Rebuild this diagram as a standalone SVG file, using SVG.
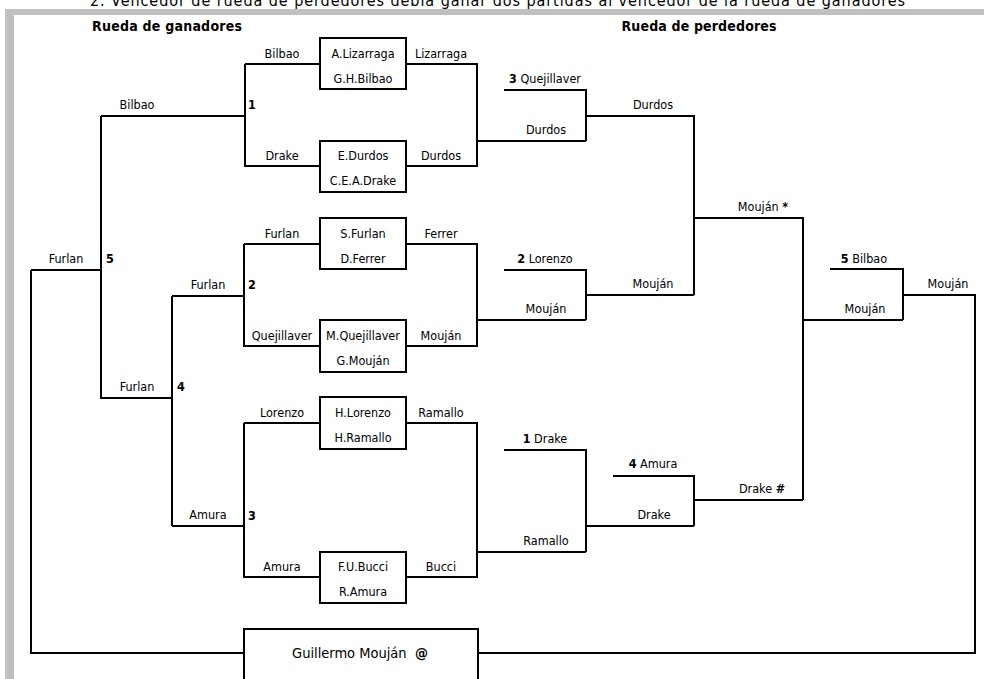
<svg xmlns="http://www.w3.org/2000/svg" width="984" height="679" viewBox="0 0 984 679">
<style>
text{font-family:"DejaVu Sans Condensed","DejaVu Sans",Verdana,sans-serif;font-stretch:condensed;font-size:12.5px;fill:#000}
.c{text-anchor:middle}
.b{font-weight:bold}
.t{font-weight:bold;font-size:14px}
.w{fill:none;stroke:#000;stroke-width:2}
.box{fill:#fff;stroke:#000;stroke-width:2}
.frame{fill:#c0c0c0}
</style>
<rect width="984" height="679" fill="#fff"/>
<g id="frame">
<rect class="frame" x="5" y="9" width="979" height="6"/>
<rect class="frame" x="5" y="9" width="9" height="670"/>
<text x="90" y="6" style="font-size:16px" textLength="815">2. Vencedor de rueda de perdedores debía ganar dos partidas al vencedor de la rueda de ganadores</text>
</g>
<g id="titles">
<text class="t c" x="167" y="31" textLength="150">Rueda de ganadores</text>
<text class="t c" x="699" y="31" textLength="155">Rueda de perdedores</text>
</g>
<g id="connectors" class="w">
<path d="M245,64H320M245,64V166H320M406,64H477V166H406M101,116H245M477,141H586M504,90H586V141M586,116H694V295"/>
<path d="M244,244H320M244,244V346H320M406,244H477V346H406M172,296H244M477,320H586M504,270H586V320M586,295H694"/>
<path d="M244,423H320M244,423V577H320M406,423H477V577H406M172,526H244M477,552H586M504,450H586V552M586,526H694M613,476H694V526M694,500H803"/>
<path d="M101,116V398H172M172,296V526M31,270H101M31,270V653H244M478,653H975V295H903M694,218H803V500M803,320H903M830,269H903V320"/>
</g>
<g id="match1">
<g id="box-lizarraga-bilbao"><rect class="box" x="320" y="38" width="86" height="51"/><text class="c" x="363" y="58">A.Lizarraga</text><text class="c" x="363" y="83">G.H.Bilbao</text></g>
<g id="box-durdos-drake"><rect class="box" x="320" y="141" width="86" height="51"/><text class="c" x="363" y="160">E.Durdos</text><text class="c" x="363" y="185">C.E.A.Drake</text></g>
<text class="c" x="282" y="58">Bilbao</text>
<text class="c" x="282" y="160">Drake</text>
<text class="c" x="441" y="58">Lizarraga</text>
<text class="c" x="441" y="160">Durdos</text>
<text class="b" x="248" y="109">1</text>
</g>
<g id="match2">
<g id="box-furlan-ferrer"><rect class="box" x="320" y="218" width="86" height="51"/><text class="c" x="363" y="238">S.Furlan</text><text class="c" x="363" y="263">D.Ferrer</text></g>
<g id="box-quejillaver-moujan"><rect class="box" x="320" y="320" width="86" height="52"/><text class="c" x="363" y="340">M.Quejillaver</text><text class="c" x="363" y="365">G.Mouján</text></g>
<text class="c" x="282" y="238">Furlan</text>
<text class="c" x="282" y="340">Quejillaver</text>
<text class="c" x="441" y="238">Ferrer</text>
<text class="c" x="441" y="340">Mouján</text>
<text class="b" x="248" y="289">2</text>
</g>
<g id="match3">
<g id="box-lorenzo-ramallo"><rect class="box" x="320" y="397" width="86" height="52"/><text class="c" x="363" y="417">H.Lorenzo</text><text class="c" x="363" y="442">H.Ramallo</text></g>
<g id="box-bucci-amura"><rect class="box" x="320" y="552" width="86" height="51"/><text class="c" x="363" y="571">F.U.Bucci</text><text class="c" x="363" y="596">R.Amura</text></g>
<text class="c" x="282" y="417">Lorenzo</text>
<text class="c" x="282" y="571">Amura</text>
<text class="c" x="441" y="417">Ramallo</text>
<text class="c" x="441" y="571">Bucci</text>
<text class="b" x="248" y="520">3</text>
</g>
<g id="winners-later">
<text class="c" x="137" y="109">Bilbao</text>
<text class="c" x="137" y="391">Furlan</text>
<text class="b" x="177" y="391">4</text>
<text class="c" x="208" y="289">Furlan</text>
<text class="c" x="208" y="519">Amura</text>
<text class="c" x="66" y="263">Furlan</text>
<text class="b" x="106" y="263">5</text>
</g>
<g id="losers">
<text class="c" x="545" y="83"><tspan class="b">3</tspan> Quejillaver</text>
<text class="c" x="546" y="134">Durdos</text>
<text class="c" x="653" y="109">Durdos</text>
<text class="c" x="545" y="263"><tspan class="b">2</tspan> Lorenzo</text>
<text class="c" x="546" y="313">Mouján</text>
<text class="c" x="653" y="288">Mouján</text>
<text class="c" x="545" y="443"><tspan class="b">1</tspan> Drake</text>
<text class="c" x="546" y="545">Ramallo</text>
<text class="c" x="653" y="468"><tspan class="b">4</tspan> Amura</text>
<text class="c" x="654" y="519">Drake</text>
<text class="c" x="763" y="211">Mouján <tspan class="b">*</tspan></text>
<text class="c" x="762" y="493">Drake <tspan class="b">#</tspan></text>
<text class="c" x="864" y="263"><tspan class="b">5</tspan> Bilbao</text>
<text class="c" x="865" y="313">Mouján</text>
<text class="c" x="948" y="288">Mouján</text>
</g>
<g id="champion">
<rect class="box" x="244" y="629" width="234" height="60"/>
<text class="c" x="360" y="658" style="font-size:14.5px" xml:space="preserve">Guillermo Mouján  <tspan class="b">@</tspan></text>
</g>
</svg>
